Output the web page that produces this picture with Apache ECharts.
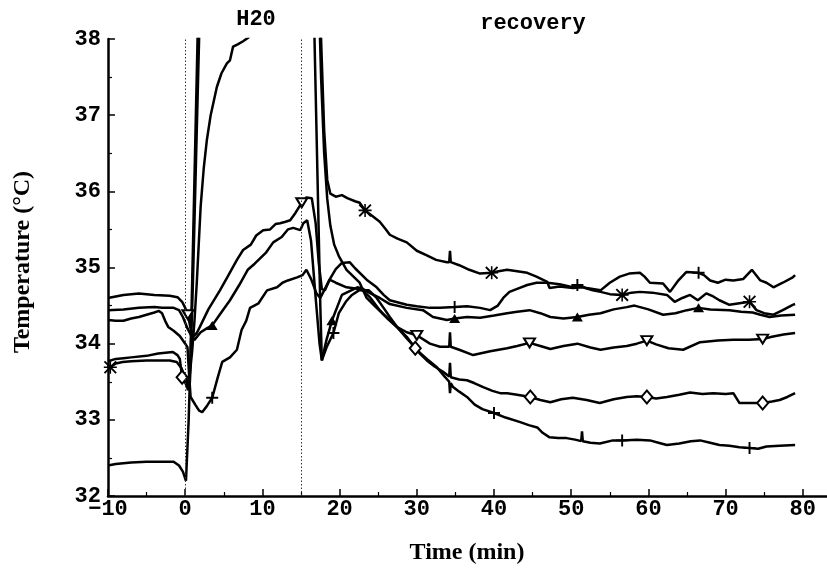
<!DOCTYPE html>
<html>
<head>
<meta charset="utf-8">
<script src="https://cdn.jsdelivr.net/npm/echarts@6/dist/echarts.min.js"></script>
<style>
  html, body { margin: 0; padding: 0; background: #fff; }
  #chart { width: 827px; height: 569px; }
</style>
</head>
<body>
<div id="chart"></div>
<script>
// Skin temperature traces [time (min), temperature (°C)]; each trace carries its own marker shape.
const traceTriDown = [
  [-10,34.60],[-9,34.62],[-8,34.64],[-6,34.66],[-4,34.64],[-2,34.63],[-1,34.61],[-0.4,34.55],[0,34.47],[0.35,34.38],
  [0.7,34.20],[1.0,34.09],[1.5,34.14],[1.9,34.22],[3,34.45],[4.5,34.70],[5.5,34.88],[6.7,35.10],[7.5,35.23],[8.5,35.30],
  [9.2,35.42],[10.1,35.49],[11,35.50],[11.7,35.57],[12.3,35.58],[13,35.60],[13.6,35.62],[14.3,35.72],[15.1,35.85],[15.7,35.92],
  [16.4,35.91],[16.9,35.58],[17.3,35.06],[17.7,34.72],[18.1,34.70],[18.7,34.84],[19.5,34.80],[20.9,34.74],[22.3,34.72],[23,34.70],
  [24,34.60],[25.2,34.44],[26.3,34.32],[27.4,34.22],[28.7,34.15],[30,34.11],[31.7,34.00],[33,33.96],[34.2,33.96],[34.3,34.15],
  [34.4,33.96],[35.5,33.92],[37.3,33.85],[39.5,33.90],[41.7,33.94],[43,33.97],[44.6,34.01],[46,33.97],[47.3,33.93],[49,33.97],
  [50.8,34.00],[52.5,33.95],[53.8,33.92],[55.5,33.95],[57.2,33.97],[58.5,34.00],[59.8,34.04],[61,33.99],[62.6,33.94],[64.5,33.92],
  [66.7,34.02],[69,34.04],[71,34.05],[73,34.05],[74.8,34.06],[76,34.09],[77.5,34.12],[79,34.14]
];
const traceTriUp = [
  [-10,34.44],[-8,34.45],[-6,34.47],[-4,34.48],[-3,34.47],[-1.5,34.47],[-0.8,34.44],[-0.3,34.35],[0.3,34.20],[0.8,34.10],
  [1.2,34.05],[2,34.15],[2.8,34.20],[3.5,34.24],[4.6,34.40],[5.8,34.57],[7,34.77],[8.1,34.97],[9.0,35.05],[9.7,35.12],
  [10.5,35.20],[11.4,35.33],[12.5,35.40],[13.3,35.50],[14,35.52],[14.9,35.49],[15.3,35.58],[15.8,35.62],[16.3,35.35],[16.9,34.60],
  [17.4,34.00],[17.7,33.78],[18.3,34.05],[19.0,34.30],[20.3,34.64],[22.3,34.74],[23,34.72],[24,34.66],[25.2,34.60],[26.5,34.52],
  [28.7,34.47],[30.8,34.44],[32.1,34.35],[33.9,34.31],[34.9,34.33],[36.5,34.35],[38.2,34.34],[40,34.37],[41.7,34.40],[43,34.42],
  [44.6,34.44],[46,34.40],[47.3,34.35],[49,34.33],[50.8,34.35],[52.3,34.38],[53.8,34.40],[55.5,34.45],[57.2,34.48],[58.2,34.50],
  [60,34.45],[61.9,34.38],[63.5,34.40],[65,34.44],[66.5,34.47],[68,34.45],[70.5,34.44],[72,34.42],[73.5,34.41],[74.5,34.38],
  [75.7,34.35],[77.2,34.37],[79,34.38]
];
const tracePlusHigh = [
  [-10,34.31],[-9,34.30],[-8,34.30],[-7,34.33],[-6,34.35],[-5,34.38],[-4,34.41],[-3.4,34.43],[-3,34.40],[-2.6,34.30],
  [-2.2,34.22],[-1.5,34.17],[-0.7,34.10],[0,34.00],[0.3,33.95],[0.5,33.60],[0.7,33.30],[1.3,33.20],[1.8,33.12],[2.2,33.10],
  [2.8,33.18],[3.5,33.29],[4.2,33.55],[4.8,33.76],[5.8,33.82],[6.7,33.92],[7.3,34.18],[7.9,34.30],[8.4,34.47],[9.5,34.53],
  [10.6,34.70],[11.9,34.74],[12.6,34.80],[13.3,34.83],[14.5,34.87],[15.2,34.90],[15.7,34.97],[16.3,34.85],[17.0,34.66],[17.5,34.60],
  [18.1,34.72],[18.7,34.84],[19.5,34.98],[20.3,35.06],[21.3,35.07],[22.0,34.99],[23.5,34.84],[24.8,34.74],[25.7,34.64],[26.5,34.57],
  [28.7,34.51],[30,34.49],[31.7,34.47],[33,34.47],[34.9,34.48],[36.5,34.49],[38.2,34.47],[39.5,34.44],[40.5,34.50],[41.2,34.60],
  [42,34.68],[43,34.72],[44.3,34.77],[45.5,34.80],[46.9,34.80],[48.5,34.78],[50.2,34.74],[50.8,34.77],[52,34.73],[53.8,34.70],
  [55,34.80],[56.3,34.88],[57.5,34.92],[58.9,34.93],[59.5,34.88],[60.2,34.80],[61.9,34.79],[62.8,34.68],[63.8,34.82],[64.9,34.94],
  [66.5,34.93],[67.2,34.90],[68,34.83],[69,34.80],[70,34.84],[71,34.83],[72.3,34.85],[73.4,34.97],[74.5,34.83],[75.3,34.80],
  [76.2,34.74],[77.4,34.80],[78.7,34.87],[79,34.90]
];
const traceStar = [
  [-10,33.72],[-9.7,33.69],[-9,33.74],[-8.1,33.76],[-7,33.77],[-5,33.78],[-3.7,33.78],[-2,33.78],[-1.1,33.76],[-0.5,33.68],
  [0,33.56],[0.35,33.39],[0.6,33.50],[0.9,34.80],[1.6,38.00],[2.0,40.00],[17.3,40.00],[17.6,38.00],[18.0,36.80],[18.4,36.15],
  [18.8,35.97],[19.5,35.93],[20.3,35.95],[21,35.91],[22.0,35.87],[22.6,35.85],[23.3,35.75],[24.2,35.68],[25.2,35.60],[26.0,35.50],
  [26.5,35.43],[27.5,35.38],[28.7,35.33],[30,35.22],[31.3,35.16],[32.5,35.10],[33.9,35.07],[34.2,35.07],[34.3,35.22],[34.4,35.07],
  [35.5,35.03],[36.8,34.97],[38.2,34.92],[39.7,34.93],[40.6,34.95],[41.7,34.97],[43,34.95],[44.3,34.93],[45.5,34.88],[46.9,34.81],
  [47.2,34.73],[48.5,34.75],[50.2,34.73],[51.5,34.74],[52.8,34.70],[53.8,34.68],[55,34.65],[56.6,34.64],[57.8,34.67],[58.9,34.68],
  [60.5,34.67],[62.4,34.64],[63.4,34.55],[64.4,34.60],[65.4,34.64],[66.4,34.57],[67.5,34.66],[68.4,34.62],[69.2,34.57],[70.5,34.51],
  [71.8,34.53],[73.1,34.55],[74,34.44],[75,34.40],[76.2,34.38],[77.4,34.44],[78.7,34.51],[79,34.52]
];
const traceDiamond = [
  [-10,33.77],[-9,33.80],[-8,33.81],[-7,33.82],[-5,33.84],[-3.5,33.87],[-1.6,33.89],[-1.0,33.85],[-0.7,33.80],[-0.4,33.56],
  [0.2,33.45],[0.6,33.60],[0.9,33.90],[1.2,34.30],[1.5,34.80],[2.0,35.80],[2.4,36.30],[2.8,36.67],[3.3,37.00],[4.1,37.37],
  [4.7,37.55],[5.4,37.68],[5.8,37.72],[6.2,37.90],[6.8,37.93],[7.5,37.97],[8.2,38.02],[9.5,38.20],[12,38.50],[15,38.80],
  [17.0,40.00],[17.3,38.60],[17.6,37.50],[18.0,36.50],[18.4,35.90],[18.8,35.55],[19.3,35.30],[19.9,35.15],[20.9,34.97],[21.8,34.88],
  [22.6,34.80],[23.5,34.60],[24.5,34.50],[25.5,34.40],[26.5,34.31],[27.6,34.20],[28.7,34.09],[29.8,33.94],[30.5,33.86],[31.3,33.78],
  [32.3,33.70],[33.4,33.63],[34.2,33.57],[34.3,33.75],[34.4,33.56],[35.5,33.53],[36.5,33.52],[37.5,33.48],[38.6,33.43],[39.8,33.38],
  [40.8,33.35],[41.7,33.35],[43,33.33],[44.7,33.30],[46,33.26],[47.3,33.23],[48.7,33.27],[50.2,33.29],[52,33.26],[53.7,33.22],
  [55.5,33.27],[57.2,33.30],[58.5,33.31],[59.8,33.30],[61,33.28],[62.4,33.30],[64,33.33],[65.4,33.36],[67,33.34],[68.4,33.35],
  [70,33.34],[71,33.35],[71.8,33.22],[73,33.22],[74.8,33.22],[76,33.24],[77,33.26],[78,33.30],[79,33.35]
];
const tracePlusLow = [
  [-10,32.40],[-9,32.42],[-7,32.44],[-5,32.45],[-3,32.45],[-1.5,32.45],[-0.8,32.40],[-0.3,32.32],[0.1,32.20],[0.3,32.22],
  [0.45,33.00],[0.6,33.50],[1.0,34.80],[1.8,38.00],[2.1,40.00],[16.5,40.00],[16.75,38.00],[17.2,35.90],[17.5,34.50],[17.7,33.78],
  [18.3,33.95],[19.2,34.14],[19.9,34.40],[20.8,34.55],[21.6,34.64],[22.5,34.70],[23.8,34.70],[24.8,34.60],[25.7,34.47],[26.5,34.35],
  [27.6,34.20],[28.7,34.07],[29.5,33.98],[30.5,33.87],[31.3,33.80],[32.6,33.69],[33.5,33.58],[34.2,33.50],[34.3,33.35],[34.4,33.48],
  [34.7,33.43],[35.5,33.37],[36.5,33.30],[37.5,33.20],[38.5,33.14],[40,33.09],[41.5,33.03],[43.4,32.97],[44.5,32.93],[45.6,32.90],
  [46.3,32.83],[47.2,32.77],[48.3,32.76],[49.4,32.76],[50.5,32.74],[51.3,32.72],[51.4,32.85],[51.5,32.72],[52.5,32.70],[53.7,32.69],
  [55.4,32.73],[56.6,32.73],[58.5,32.74],[60.2,32.73],[61.3,32.70],[62.4,32.67],[64,32.69],[65.5,32.72],[66.7,32.73],[68,32.70],
  [69.2,32.67],[70.5,32.66],[71.8,32.64],[73.1,32.63],[74.2,32.62],[75.3,32.65],[77,32.66],[79,32.67]
];

// Times (min) at which each trace carries its marker symbol.
const marksTriDown = [0.35, 15.1, 30, 44.6, 59.8, 74.8];
const marksTriUp = [3.5, 19.0, 34.9, 50.8, 66.5];
const marksPlusHigh = [3.5, 34.9, 50.8, 66.5];
const marksStar = [-9.7, 23.3, 39.7, 56.6, 73.1];
const marksDiamond = [-0.4, 29.8, 44.7, 59.8, 74.8];
const marksPlusLow = [19.2, 40, 56.6, 73.1];

// Phase boundaries (immersion start / end) and axis ticks.
const phaseLines = [0, 15];
const xTicks = [-10, 0, 10, 20, 30, 40, 50, 60, 70, 80];
const yTicks = [32, 33, 34, 35, 36, 37, 38];

const PLUS = 'path://M4.2,0 L5.8,0 L5.8,4.2 L10,4.2 L10,5.8 L5.8,5.8 L5.8,10 L4.2,10 L4.2,5.8 L0,5.8 L0,4.2 L4.2,4.2 Z';
const STAR = 'path://M4.4,0 L5.6,0 L5.6,10 L4.4,10 Z M0,4.4 L10,4.4 L10,5.6 L0,5.6 Z M1,0 L10,9 L9,10 L0,1 Z M9,0 L10,1 L1,10 L0,9 Z';

const traces = [
  { data: traceTriDown, marks: marksTriDown, symbol: 'triangle', rotate: 180, size: [11, 9], hollow: true },
  { data: traceTriUp, marks: marksTriUp, symbol: 'triangle', rotate: 0, size: [11, 9], hollow: false },
  { data: tracePlusHigh, marks: marksPlusHigh, symbol: PLUS, rotate: 0, size: 12, hollow: false },
  { data: traceStar, marks: marksStar, symbol: STAR, rotate: 0, size: 13, hollow: false },
  { data: traceDiamond, marks: marksDiamond, symbol: 'diamond', rotate: 0, size: [11, 13], hollow: true },
  { data: tracePlusLow, marks: marksPlusLow, symbol: PLUS, rotate: 0, size: 12, hollow: false }
];

const series = [];
traces.forEach((tr, i) => {
  series.push({
    type: 'line',
    data: tr.data,
    symbol: 'none',
    lineStyle: { color: '#000', width: 2.5 },
    clip: true,
    z: 2,
    silent: true,
    markLine: i === 0 ? {
      silent: true,
      symbol: ['none', 'none'],
      label: { show: false },
      lineStyle: { color: '#333', type: [1.5, 2], width: 1 },
      data: phaseLines.map(v => ({ xAxis: v }))
    } : undefined
  });
  series.push({
    type: 'scatter',
    data: tr.data.filter(p => tr.marks.includes(p[0])),
    symbol: tr.symbol,
    symbolRotate: tr.rotate,
    symbolSize: tr.size,
    itemStyle: tr.hollow
      ? { color: '#fff', borderColor: '#000', borderWidth: 2, opacity: 1 }
      : { color: '#000', opacity: 1 },
    z: 3,
    silent: true
  });
});

const tickFont = { fontFamily: 'Liberation Mono', fontWeight: 'bold', fontSize: 22, color: '#000' };
const titleFont = 'bold 24px "Liberation Serif"';
const noteFont = 'bold 22px "Liberation Mono"';

const chart = echarts.init(document.getElementById('chart'), null, { renderer: 'canvas' });
chart.setOption({
  animation: false,
  backgroundColor: '#fff',
  grid: { left: 108, top: 39, bottom: 73, right: -53, containLabel: false, outerBoundsMode: 'none' },
  xAxis: {
    type: 'value', min: -10, max: 90, interval: 10,
    axisLine: { onZero: false, lineStyle: { color: '#000', width: 2.5 } },
    axisTick: { inside: true, length: 7, lineStyle: { color: '#000', width: 1.5 } },
    minorTick: { show: true, splitNumber: 2, length: 4, lineStyle: { color: '#000', width: 1.2 } },
    splitLine: { show: false },
    axisLabel: Object.assign({}, tickFont, {
      margin: 2,
      formatter: v => xTicks.includes(v) ? (v < 0 ? '\u2212' + Math.abs(v) : String(v)) : ''
    })
  },
  yAxis: {
    type: 'value', min: 32, max: 38, interval: 1,
    axisLine: { show: true, onZero: false, lineStyle: { color: '#000', width: 2.5 } },
    axisTick: { show: true, inside: true, length: 7, lineStyle: { color: '#000', width: 1.5 } },
    minorTick: { show: true, splitNumber: 2, length: 4, lineStyle: { color: '#000', width: 1.2 } },
    splitLine: { show: false },
    axisLabel: Object.assign({}, tickFont, {
      margin: 7,
      formatter: v => yTicks.includes(v) ? String(v) : ''
    })
  },
  graphic: [
    { type: 'text', x: 256, y: 19, style: { text: 'H20', font: noteFont, fill: '#000', align: 'center', verticalAlign: 'middle' }, silent: true },
    { type: 'text', x: 533, y: 23, style: { text: 'recovery', font: noteFont, fill: '#000', align: 'center', verticalAlign: 'middle' }, silent: true },
    { type: 'text', x: 467, y: 553, style: { text: 'Time (min)', font: titleFont, fill: '#000', align: 'center', verticalAlign: 'middle' }, silent: true },
    { type: 'text', x: 23, y: 262, rotation: Math.PI / 2, style: { text: 'Temperature (°C)', font: titleFont, fill: '#000', align: 'center', verticalAlign: 'middle' }, silent: true }
  ],
  series: series
});
</script>
</body>
</html>
